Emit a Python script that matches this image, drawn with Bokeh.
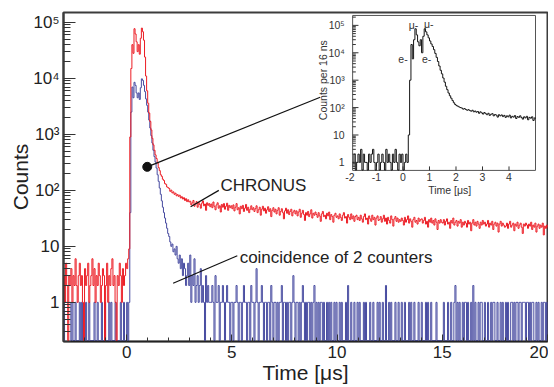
import numpy as np
from bokeh.plotting import figure
from bokeh.models import (Range1d, LogScale, LinearScale, FixedTicker,
                          SingleIntervalTicker, CustomJSTickFormatter)
from bokeh.core.properties import value
from bokeh.embed import file_html
from bokeh.resources import INLINE

FONT = "Liberation Sans"
RED = "#ec1c24"
BLUE = "#474ba0"
INK = "#222222"

# ---------------- main histogram data (counts per bin) ----------------
# segment 1: bins from -3.0 us, width 0.05 us
pre_start, pre_step = -3.0, 0.05
red_pre = [3, 1, 5, 2, 0, 3, 2, 4, 1, 3,
           2, 6, 2, 1, 3, 5, 2, 3, 1, 0,
           4, 2, 3, 5, 1, 2, 3, 6, 2, 4,
           1, 3, 2, 5, 3, 1, 2, 4, 3, 0,
           2, 5, 1, 3, 2, 4, 6, 2, 3, 1,
           0, 3, 2, 5, 3, 1, 4, 2, 3, 5,
           4, 6]
blue_pre = [0, 1, 1, 1, 1, 1, 1, 0, 1, 0,
            0, 1, 0, 0, 0, 1, 0, 1, 0, 0,
            0, 1, 0, 0, 1, 0, 0, 0, 0, 1,
            0, 0, 1, 0, 0, 0, 1, 0, 0, 1,
            0, 0, 0, 1, 0, 1, 0, 0, 0, 1,
            0, 0, 0, 0, 1, 0, 0, 1, 0, 0,
            1, 0]
# segment 2: bins from 0.10 us, width 0.05 us
peak_start, peak_step = 0.10, 0.05
red_peak = [9, 900, 15000, 40000, 28000, 77000, 62000, 45000, 30000, 40000,
            27000, 52000, 79000, 68000, 48000, 24000, 11000, 6000, 3600, 2400,
            1700, 1200, 850, 650, 520, 430, 370, 310, 255, 225,
            190, 178, 158, 150, 132, 128, 115, 112]
blue_peak = [1, 40, 2500, 7000, 4500, 8500, 7500, 5500, 4500, 5500,
             4200, 6800, 9800, 9200, 7500, 5800, 4300, 3300, 2500, 1800,
             1300, 950, 700, 520, 400, 320, 250, 190, 145, 110,
             85, 65, 50, 40, 32, 26, 21, 17]
# segment 3: bins from 2.0 us, width 0.05 us (one row per microsecond)
tail_start, tail_step = 2.0, 0.05
red_tail = [
    108, 96, 101, 90, 94, 85, 89, 80, 84, 78, 82, 73, 77, 70, 74, 66, 71, 63, 68, 62,
    64, 55, 60, 66, 52, 58, 63, 50, 61, 56, 48, 59, 65, 53, 57, 44, 60, 54, 58, 51,
    57, 49, 62, 52, 45, 55, 60, 48, 53, 41, 56, 50, 58, 46, 52, 59, 44, 54, 49, 53,
    47, 55, 43, 50, 58, 45, 49, 38, 52, 47, 54, 42, 48, 56, 44, 50, 40, 46, 53, 45,
    49, 42, 47, 53, 40, 45, 50, 36, 46, 52, 43, 48, 39, 45, 51, 42, 47, 34, 44, 49,
    41, 46, 38, 44, 49, 36, 42, 47, 40, 31, 43, 48, 39, 45, 37, 42, 46, 35, 41, 44,
    38, 43, 35, 41, 46, 33, 39, 44, 37, 29, 40, 36, 42, 34, 38, 45, 32, 39, 36, 41,
    37, 33, 40, 35, 28, 38, 42, 34, 36, 31, 39, 35, 41, 30, 37, 34, 27, 36, 39, 33,
    35, 31, 38, 33, 29, 36, 40, 32, 34, 26, 37, 33, 30, 38, 31, 35, 28, 34, 36, 30,
    33, 29, 36, 31, 27, 34, 38, 30, 32, 25, 35, 31, 28, 36, 30, 33, 24, 32, 35, 29,
    30, 34, 27, 31, 36, 28, 32, 25, 33, 29, 26, 35, 30, 23, 31, 34, 28, 32, 27, 30,
    28, 32, 29, 24, 33, 27, 30, 35, 26, 31, 28, 22, 30, 33, 27, 29, 25, 32, 28, 30,
    31, 26, 29, 33, 25, 28, 22, 30, 27, 32, 26, 29, 24, 31, 27, 20, 29, 26, 30, 27,
    26, 30, 24, 28, 31, 25, 27, 21, 29, 26, 32, 24, 27, 29, 23, 28, 26, 30, 22, 27,
    24, 28, 26, 22, 29, 25, 27, 19, 26, 30, 24, 27, 23, 28, 25, 21, 27, 24, 29, 25,
    27, 23, 25, 29, 22, 26, 24, 28, 20, 25, 27, 23, 26, 18, 25, 28, 23, 26, 24, 22,
    23, 26, 21, 25, 28, 22, 24, 26, 19, 25, 23, 27, 21, 24, 26, 22, 17, 25, 23, 26,
    24, 21, 25, 23, 27, 20, 24, 22, 26, 18, 23, 25, 21, 24, 22, 26, 16, 23, 21, 24,
    22, 20]
blue_tail = [
    15, 12, 10, 11, 8, 9, 7, 10, 6, 5, 7, 4, 6, 3, 5, 4, 2, 3, 5, 2,
    7, 1, 3, 2, 6, 1, 2, 3, 1, 2, 4, 1, 2, 1, 0, 3, 1, 2, 1, 1,
    1, 2, 1, 0, 3, 1, 1, 2, 0, 1, 1, 2, 1, 0, 1, 2, 1, 1, 0, 1,
    1, 0, 1, 1, 2, 1, 0, 1, 1, 0, 1, 2, 1, 1, 0, 1, 1, 0, 2, 1,
    1, 0, 1, 4, 1, 0, 1, 1, 2, 1, 0, 1, 1, 0, 1, 1, 0, 2, 1, 0,
    1, 1, 0, 1, 0, 1, 1, 2, 0, 1, 1, 0, 1, 0, 1, 1, 0, 1, 3, 1,
    0, 1, 1, 0, 1, 0, 1, 2, 1, 0, 1, 0, 1, 1, 0, 1, 0, 1, 2, 0,
    1, 0, 1, 0, 1, 1, 0, 1, 0, 0, 1, 0, 1, 0, 1, 0, 0, 1, 0, 1,
    0, 0, 1, 0, 1, 0, 0, 0, 1, 0, 2, 0, 0, 1, 0, 0, 1, 0, 0, 1,
    0, 1, 0, 0, 0, 1, 0, 1, 0, 0, 0, 1, 0, 0, 1, 0, 0, 0, 1, 0,
    1, 0, 0, 1, 0, 0, 2, 0, 0, 1, 0, 1, 0, 0, 0, 1, 0, 0, 1, 0,
    0, 1, 0, 0, 1, 0, 0, 0, 1, 0, 1, 0, 0, 1, 0, 0, 0, 1, 0, 0,
    1, 0, 0, 0, 1, 0, 1, 0, 0, 1, 0, 0, 0, 0, 1, 0, 0, 0, 0, 0,
    0, 1, 0, 0, 0, 1, 0, 0, 1, 0, 0, 1, 2, 0, 1, 0, 1, 0, 0, 1,
    0, 1, 1, 0, 1, 0, 0, 1, 0, 2, 0, 1, 0, 0, 1, 0, 1, 1, 0, 0,
    1, 0, 0, 1, 0, 0, 1, 0, 1, 1, 0, 0, 1, 0, 0, 1, 0, 1, 0, 0,
    1, 0, 1, 0, 0, 1, 1, 0, 1, 0, 1, 1, 0, 1, 1, 0, 1, 1, 1, 0,
    1, 1, 0, 1, 0, 1, 1, 0, 0, 1, 0, 1, 0, 0, 1, 0, 1, 1, 0, 1,
    0, 1]

# ---------------- inset histogram data (counts per 16 ns) ----------------
ins_pre_start, ins_pre_step = -1.9, 0.05
ins_pre = [1, 2, 0, 1, 2, 1, 3, 0, 2, 1,
           1, 0, 2, 1, 2, 3, 1, 0, 1, 2,
           0, 1, 2, 1, 0, 3, 1, 2, 1, 0,
           2, 1, 3, 1, 0, 2, 1, 2, 0, 1,
           2, 1]
ins_main_start, ins_main_step = 0.20, 0.05
ins_main = [10, 1000, 20000, 6000, 30000, 75000, 45000, 25000, 18000, 30000,
            10000, 40000, 75000, 58000, 45000, 35000, 27000, 21000, 17000, 13000,
            9500, 6800, 4800, 3300, 2300, 1700, 1200, 850, 600, 450,
            340, 270, 220, 180, 150, 130, 118, 112, 105, 100,
            96, 88, 92, 85, 80, 84, 78, 74, 80, 70,
            75, 68, 72, 62, 70, 64, 58, 66, 60, 55,
            62, 52, 57, 60, 50, 56, 53, 45, 55, 50,
            54, 47, 52, 44, 50, 46, 53, 42, 48, 45,
            51, 40, 47, 44, 50, 43, 38, 46, 42, 48,
            36, 44, 41, 46, 34, 42, 40]

# tick values / labels
decades = [1, 10, 100, 1000, 10000, 100000]
ins_xticks = [-2, -1, 0, 1, 2, 3, 4]
sup = ["1", "10", "10²", "10³", "10⁴", "10⁵"]

# ---------------- ranges ----------------
X_MIN, X_MAX = -3.0, 20.0
Y_MIN, Y_MAX = 0.2, 1.5e5
IX_MIN, IX_MAX = -1.9, 5.0
IY_MIN, IY_MAX = 0.51, 2.3e5
# where the inset box sits inside the main frame
INS_X0, INS_X1 = 10.74, 19.43          # in main time units
INS_FY0, INS_FY1 = 0.52, 0.991          # as fractions of the frame height


def build(starts_steps, arrays, floor):
    xs = []
    ys = []
    for (s, d), arr in zip(starts_steps, arrays):
        xs.append(s + d * np.arange(len(arr)))
        a = np.asarray(arr, dtype=float)
        ys.append(np.where(a > 0, a, floor))
    return np.concatenate(xs), np.concatenate(ys)


segs = [(pre_start, pre_step), (peak_start, peak_step), (tail_start, tail_step)]
red_x, red_y = build(segs, [red_pre, red_peak, red_tail], Y_MIN * 1.04)
blue_x, blue_y = build(segs, [blue_pre, blue_peak, blue_tail], Y_MIN * 1.04)
ins_x, ins_y = build([(ins_pre_start, ins_pre_step), (ins_main_start, ins_main_step)],
                     [ins_pre, ins_main], IY_MIN * 1.03)

# inset ranges stretched over the whole frame so that the inset box lands in place
fx0 = (INS_X0 - X_MIN) / (X_MAX - X_MIN)
fx1 = (INS_X1 - X_MIN) / (X_MAX - X_MIN)
ix_span = (IX_MAX - IX_MIN) / (fx1 - fx0)
ix_start = IX_MIN - fx0 * ix_span
ly0, ly1 = np.log10(IY_MIN), np.log10(IY_MAX)
ly_span = (ly1 - ly0) / (INS_FY1 - INS_FY0)
ly_start = ly0 - INS_FY0 * ly_span

p = figure(width=548, height=386, x_range=Range1d(X_MIN, X_MAX),
           y_range=Range1d(Y_MIN, Y_MAX), y_axis_type="log",
           output_backend="svg", toolbar_location=None,
           min_border_left=63, min_border_right=1, min_border_top=12, min_border_bottom=20,
           title=None)
p.extra_x_ranges = {"ins": Range1d(ix_start, ix_start + ix_span)}
p.extra_y_ranges = {"ins": Range1d(10 ** ly_start, 10 ** (ly_start + ly_span))}
p.extra_x_scales = {"ins": LinearScale()}
p.extra_y_scales = {"ins": LogScale()}
p.grid.visible = False
p.outline_line_color = "#3c3c3c"
p.outline_line_width = 2
p.background_fill_color = "white"
p.border_fill_color = "white"

minor = [m * d for d in [0.1] + decades for m in range(2, 10)]
yaxis = p.yaxis[0]
yaxis.ticker = FixedTicker(ticks=decades, minor_ticks=minor)
yaxis.formatter = CustomJSTickFormatter(code="""
    const e = Math.round(Math.log10(tick));
    const s = ["1", "10", "10\u00b2", "10\u00b3", "10\u2074", "10\u2075"];
    return s[e];
""")
yaxis.axis_label = "Counts"
yaxis.axis_line_color = "#3c3c3c"
yaxis.axis_line_width = 2
yaxis.major_tick_in = 12
yaxis.major_tick_out = 0
yaxis.minor_tick_in = 7
yaxis.minor_tick_out = 0
yaxis.major_tick_line_color = "#333333"
yaxis.minor_tick_line_color = "#333333"
yaxis.major_label_text_font = FONT
yaxis.major_label_text_font_size = "17px"
yaxis.major_label_text_color = INK
yaxis.major_label_standoff = 4
yaxis.axis_label_text_font = FONT
yaxis.axis_label_text_font_size = "21px"
yaxis.axis_label_text_font_style = "normal"
yaxis.axis_label_text_color = INK
yaxis.axis_label_standoff = -2

xaxis = p.xaxis[0]
xaxis.ticker = SingleIntervalTicker(interval=5, num_minor_ticks=5)
xaxis.axis_label = "Time [μs]"
xaxis.axis_line_color = "#222222"
xaxis.axis_line_width = 1.5
xaxis.major_tick_in = 7
xaxis.major_tick_out = 0
xaxis.minor_tick_in = 4
xaxis.minor_tick_out = 0
xaxis.major_tick_line_color = "#333333"
xaxis.minor_tick_line_color = "#333333"
xaxis.major_label_text_font = FONT
xaxis.major_label_text_font_size = "17px"
xaxis.major_label_text_color = INK
xaxis.major_label_standoff = 4
xaxis.axis_label_text_font = FONT
xaxis.axis_label_text_font_size = "21px"
xaxis.axis_label_text_font_style = "normal"
xaxis.axis_label_text_color = INK
xaxis.axis_label_standoff = 0

# main histograms
p.step(blue_x, blue_y, mode="after", line_color=BLUE, line_width=1)
p.step(red_x, red_y, mode="after", line_color=RED, line_width=1)

# annotations
dot = (0.98, 263)
dot_line_end = (9.2, 4600)
chronus_leader = ((3.04, 51), (4.38, 100))
chronus_text = (4.46, 121)
coinc_leader = ((2.21, 2.2), (5.26, 6.8))
coinc_text = (5.37, 6.3)

p.segment(x0=[dot[0], chronus_leader[0][0], coinc_leader[0][0]],
          y0=[dot[1], chronus_leader[0][1], coinc_leader[0][1]],
          x1=[dot_line_end[0], chronus_leader[1][0], coinc_leader[1][0]],
          y1=[dot_line_end[1], chronus_leader[1][1], coinc_leader[1][1]],
          line_color="#111111", line_width=1.2)
p.scatter([dot[0]], [dot[1]], size=9, color="#111111")
p.text(x=[chronus_text[0], coinc_text[0]], y=[chronus_text[1], coinc_text[1]],
       text=["CHRONUS", "coincidence of 2 counters"],
       text_font=value(FONT), text_font_size="17px", text_color=INK,
       text_baseline="middle", text_align="left")

# ---------------- inset ----------------
R = dict(x_range_name="ins", y_range_name="ins")
p.quad(left=[IX_MIN], right=[IX_MAX], bottom=[IY_MIN], top=[IY_MAX],
       fill_color="white", line_color="#555555", line_width=1, **R)
p.step(ins_x, ins_y, mode="after", line_color="#151515", line_width=1, **R)

ins_minor = [m * d for d in [0.1] + decades for m in range(2, 10) if IY_MIN < m * d < IY_MAX]
p.segment(x0=[IX_MIN] * len(decades), x1=[IX_MIN + 0.22] * len(decades),
          y0=decades, y1=decades, line_color="#333333", line_width=1, **R)
p.segment(x0=[IX_MIN] * len(ins_minor), x1=[IX_MIN + 0.12] * len(ins_minor),
          y0=ins_minor, y1=ins_minor, line_color="#333333", line_width=1, **R)
ins_xt_in = [t for t in ins_xticks if t > IX_MIN]
p.segment(x0=ins_xt_in, x1=ins_xt_in, y0=[IY_MIN] * len(ins_xt_in),
          y1=[IY_MIN * 1.4] * len(ins_xt_in), line_color="#333333", line_width=1, **R)
p.text(x=[IX_MIN - 0.3] * len(decades), y=decades, text=sup,
       text_font=value(FONT), text_font_size="10.5px", text_color="#333333",
       text_align="right", text_baseline="middle", **R)
p.text(x=ins_xticks, y=[IY_MIN] * len(ins_xticks), y_offset=7,
       text=[str(t) for t in ins_xticks],
       text_font=value(FONT), text_font_size="10.5px", text_color="#333333",
       text_align="center", text_baseline="middle", **R)
p.text(x=[1.76], y=[IY_MIN], y_offset=20, text=["Time [μs]"],
       text_font=value(FONT), text_font_size="10.5px", text_color="#333333",
       text_align="center", text_baseline="middle", **R)
p.text(x=[-3.0], y=[1000], angle=np.pi / 2, text=["Counts per 16 ns"],
       text_font=value(FONT), text_font_size="10.5px", text_color="#333333",
       text_align="center", text_baseline="middle", **R)
p.text(x=[0.40, 0.97, 0.0, 0.89], y=[1.0e5, 1.1e5, 5800, 5800],
       text=["μ-", "μ-", "e-", "e-"],
       text_font=value(FONT), text_font_size="10.5px", text_color="#333333",
       text_align="center", text_baseline="middle", **R)

open("out.html", "w").write(file_html(p, INLINE))
